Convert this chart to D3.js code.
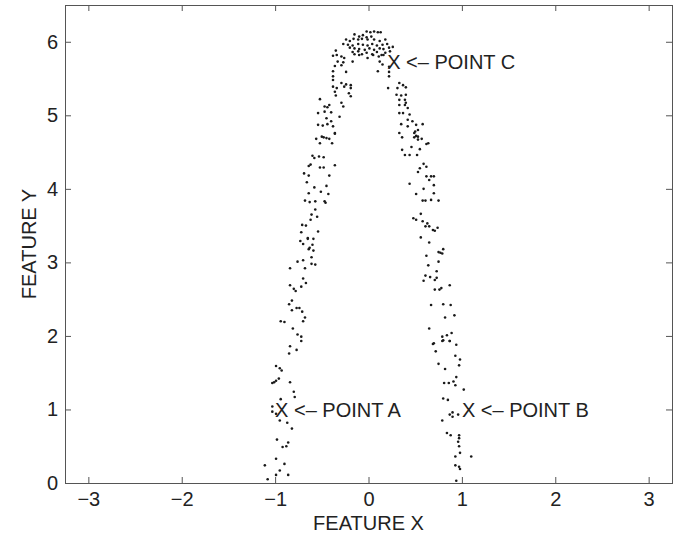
<!DOCTYPE html>
<html>
<head>
<meta charset="utf-8">
<script src="https://cdn.jsdelivr.net/npm/d3@7"></script>
<style>
body { margin: 0; background: #fff; }
text { font-family: "Liberation Sans", Arial, sans-serif; fill: #222; }
</style>
</head>
<body>
<svg id="chart" width="675" height="537"></svg>
<script>
// points, top of the arch first, then each branch downwards
var featureX = [
  -0.02,0.02,0.06,0.10,0.13,
  -0.15,-0.10,-0.06,-0.02,0.03,-0.24,-0.20,-0.16,-0.11,-0.07,-0.01,0.06,0.12,0.18,
  -0.27,-0.22,-0.17,-0.11,-0.06,-0.01,0.04,0.09,0.15,0.20,
  -0.20,-0.15,-0.10,-0.04,0.01,0.06,0.12,0.16,0.22,0.26,
  -0.35,-0.17,-0.11,-0.07,-0.02,0.04,0.09,0.14,0.18,0.23,
  -0.38,-0.34,-0.29,-0.26,-0.15,-0.10,0.05,0.11,0.16,-0.01,
  -0.33,-0.27,-0.17,0.12,0.15,-0.36,-0.29,0.22,
  -0.38,-0.24,0.10,0.22,0.22,-0.38,
  -0.38,-0.29,-0.24,-0.19,0.33,0.37,-0.38,-0.34,-0.26,-0.19,0.21,0.31,0.40,
  -0.36,-0.21,0.30,0.35,0.40,-0.35,-0.19,-0.52,0.33,0.39,-0.29,-0.42,0.33,0.39,-0.47,-0.44,0.40,-0.27,0.42,
  -0.54,-0.47,-0.40,0.33,0.37,0.44,-0.31,-0.45,0.42,0.35,-0.40,0.47,-0.54,-0.49,-0.44,-0.38,0.42,0.51,0.58,0.53,-0.36,0.49,0.33,
  // left branch, upper middle
  -0.36,-0.50,-0.48,-0.45,-0.42,-0.56,-0.52,-0.39,-0.60,-0.58,-0.53,-0.48,-0.36,-0.62,-0.64,-0.52,-0.48,
  -0.69,-0.64,-0.42,-0.66,-0.45,-0.58,-0.51,-0.64,-0.43,-0.68,-0.63,-0.57,-0.47,-0.46,-0.57,-0.61,-0.55,
  -0.62,-0.71,-0.67,-0.54,-0.72,-0.65,
  // right branch, upper middle
  0.50,0.51,0.49,0.53,0.57,0.53,0.36,0.64,0.62,0.46,0.55,0.36,0.39,0.44,0.52,0.59,0.62,0.55,0.53,
  0.62,0.67,0.70,0.65,0.44,0.70,0.59,0.70,0.51,0.58,0.61,0.67,0.75,0.56,0.48,0.51,0.58,0.63,0.61,
  0.69,0.71,0.74,0.65,
  // left branch, lower middle
  -0.73,-0.65,-0.59,-0.70,-0.60,-0.63,-0.64,-0.59,-0.61,-0.70,-0.76,-0.61,-0.57,-0.84,-0.68,-0.70,
  -0.67,-0.84,-0.72,-0.80,-0.78,-0.82,-0.85,-0.77,-0.74,-0.82,-0.71,-0.68,-0.70,-0.94,-0.90,-0.81,
  -0.76,-0.72,
  // right branch, lower middle
  0.56,0.65,0.80,0.75,0.77,0.79,0.62,0.75,0.64,0.73,0.61,0.66,0.73,0.71,0.59,0.87,0.71,0.76,0.78,
  0.67,0.80,0.88,0.92,0.82,0.65,0.89,0.84,0.79,0.80,0.87,0.70,
  // left branch, bottom
  -0.72,-0.84,-0.77,-0.85,-0.99,-0.95,-0.93,-0.96,-0.99,-1.03,-1.01,-0.84,-0.80,-0.79,-1.03,-1.03,
  -0.94,-0.99,-0.95,-0.87,-0.82,-0.98,-0.92,-0.88,-0.86,-0.99,-1.11,-0.90,-0.95,-0.99,-1.08,-0.86,
  // right branch, bottom
  0.69,0.79,0.87,0.94,0.72,0.93,0.98,0.75,0.97,0.82,0.94,0.81,0.86,0.91,0.93,1.02,0.80,0.85,0.90,
  0.87,0.90,0.96,0.79,0.84,0.88,0.97,0.97,0.96,0.97,0.98,0.93,1.10,0.93,0.97,0.98,0.94
];
var featureY = [
  6.14,6.13,6.14,6.13,6.13,
  6.10,6.07,6.09,6.06,6.07,6.03,6.01,6.04,6.03,6.04,6.03,6.03,6.01,6.03,
  5.97,5.96,5.95,5.97,5.96,5.95,5.97,5.95,5.96,5.97,
  5.92,5.91,5.90,5.89,5.91,5.89,5.91,5.90,5.92,5.93,
  5.88,5.86,5.87,5.83,5.85,5.83,5.86,5.82,5.85,5.87,
  5.81,5.82,5.80,5.78,5.83,5.82,5.82,5.80,5.82,5.78,
  5.73,5.72,5.73,5.73,5.69,5.67,5.68,5.66,
  5.60,5.59,5.60,5.59,5.53,5.53,
  5.48,5.44,5.42,5.41,5.44,5.41,5.39,5.37,5.39,5.37,5.37,5.37,5.38,
  5.32,5.30,5.28,5.27,5.28,5.27,5.26,5.22,5.21,5.21,5.17,5.14,5.14,5.14,5.12,5.11,5.17,5.12,5.10,
  5.03,5.05,5.04,5.03,5.03,5.01,4.98,4.96,4.94,4.88,4.92,4.92,4.87,4.86,4.88,4.85,4.85,4.87,4.88,4.80,4.76,4.76,4.76,
  4.75,4.71,4.70,4.69,4.68,4.68,4.62,4.62,4.45,4.42,4.44,4.43,4.32,4.33,4.31,4.29,4.29,
  4.21,4.18,4.18,4.09,4.04,4.02,3.96,3.94,3.93,3.84,3.82,3.83,3.83,3.81,3.72,3.65,3.62,
  3.58,3.51,3.50,3.42,3.41,3.33,
  4.78,4.72,4.70,4.71,4.68,4.67,4.70,4.62,4.61,4.57,4.54,4.53,4.46,4.46,4.46,4.34,4.30,4.28,4.23,
  4.17,4.17,4.17,4.12,4.07,4.05,4.00,3.94,3.93,3.84,3.84,3.85,3.84,3.66,3.60,3.58,3.56,3.53,3.49,
  3.44,3.43,3.47,3.49,
  3.29,3.32,3.32,3.25,3.24,3.20,3.18,3.16,3.07,3.03,3.01,2.98,2.97,2.92,2.92,2.78,
  2.72,2.69,2.67,2.64,2.61,2.48,2.43,2.38,2.38,2.35,2.33,2.25,2.20,2.20,2.19,2.10,
  2.02,1.99,
  3.34,3.27,3.18,3.14,3.13,3.12,3.09,3.01,2.96,2.88,2.82,2.80,2.79,2.76,2.75,2.69,2.63,2.63,2.65,
  2.42,2.43,2.42,2.28,2.25,2.10,2.04,2.01,1.99,1.94,1.93,1.90,
  1.93,1.86,1.81,1.76,1.59,1.56,1.53,1.42,1.39,1.36,1.37,1.37,1.24,1.17,1.04,0.97,
  1.14,0.94,0.85,0.82,0.74,0.59,0.49,0.50,0.55,0.33,0.24,0.26,0.17,0.11,0.05,0.11,
  1.89,1.93,1.93,1.88,1.79,1.73,1.68,1.62,1.60,1.55,1.44,1.36,1.36,1.38,1.33,1.27,1.15,1.13,0.96,
  0.93,0.90,0.93,0.85,0.68,0.65,0.65,0.61,0.56,0.50,0.41,0.36,0.36,0.24,0.22,0.19,0.03
];

var xTicks = [-3, -2, -1, 0, 1, 2, 3];
var yTicks = [0, 1, 2, 3, 4, 5, 6];

var noteLabels = ["X <\u2013 POINT A", "X <\u2013 POINT B", "X <\u2013 POINT C"];
var noteX = [-1.0, 1.0, 0.2];
var noteY = [1.0, 1.0, 5.73];

var svg = d3.select("#chart");
var plotLeft = 65, plotRight = 672, plotTop = 5, plotBottom = 483;

var x = d3.scaleLinear().domain([-3.25, 3.25]).range([plotLeft, plotRight]);
var y = d3.scaleLinear().domain([0, 6.5]).range([plotBottom, plotTop]);
var tickFmt = d3.format("d");

function styleAxis(g) {
    g.selectAll("path").remove();
    g.selectAll("line").attr("stroke", "#555").attr("stroke-width", 1);
    g.selectAll("text").style("font-size", "20px").style("fill", "#222");
}

svg.append("g")
    .attr("transform", "translate(0," + plotBottom + ")")
    .call(d3.axisBottom(x).tickValues(xTicks).tickFormat(tickFmt).tickSizeInner(-6).tickSizeOuter(0).tickPadding(9))
    .call(styleAxis);

svg.append("g")
    .attr("transform", "translate(0," + plotTop + ")")
    .call(d3.axisTop(x).tickValues(xTicks).tickSizeInner(-6).tickSizeOuter(0).tickFormat(""))
    .call(styleAxis);

svg.append("g")
    .attr("transform", "translate(" + plotLeft + ",0)")
    .call(d3.axisLeft(y).tickValues(yTicks).tickFormat(tickFmt).tickSizeInner(-6).tickSizeOuter(0).tickPadding(7))
    .call(styleAxis);

svg.append("g")
    .attr("transform", "translate(" + plotRight + ",0)")
    .call(d3.axisRight(y).tickValues(yTicks).tickSizeInner(-6).tickSizeOuter(0).tickFormat(""))
    .call(styleAxis);

svg.append("rect")
    .attr("x", plotLeft + 0.5)
    .attr("y", plotTop + 0.5)
    .attr("width", plotRight - plotLeft)
    .attr("height", plotBottom - plotTop)
    .attr("fill", "none")
    .attr("stroke", "#555")
    .attr("stroke-width", 1);

svg.append("g")
    .selectAll("circle")
    .data(featureX)
    .enter()
    .append("circle")
    .attr("cx", function(d) { return x(d); })
    .attr("cy", function(d, i) { return y(featureY[i]); })
    .attr("r", 1.3)
    .attr("fill", "#1a1a1a");

svg.append("g")
    .selectAll("text")
    .data(noteLabels)
    .enter()
    .append("text")
    .attr("x", function(d, i) { return x(noteX[i]); })
    .attr("y", function(d, i) { return y(noteY[i]); })
    .attr("dy", "0.36em")
    .style("font-size", "20px")
    .text(function(d) { return d; });

svg.append("text")
    .attr("x", (plotLeft + plotRight) / 2)
    .attr("y", 530)
    .attr("text-anchor", "middle")
    .style("font-size", "20px")
    .text("FEATURE X");

svg.append("text")
    .attr("transform", "translate(36," + (plotTop + plotBottom) / 2 + ") rotate(-90)")
    .attr("text-anchor", "middle")
    .style("font-size", "20px")
    .text("FEATURE Y");
</script>
</body>
</html>
